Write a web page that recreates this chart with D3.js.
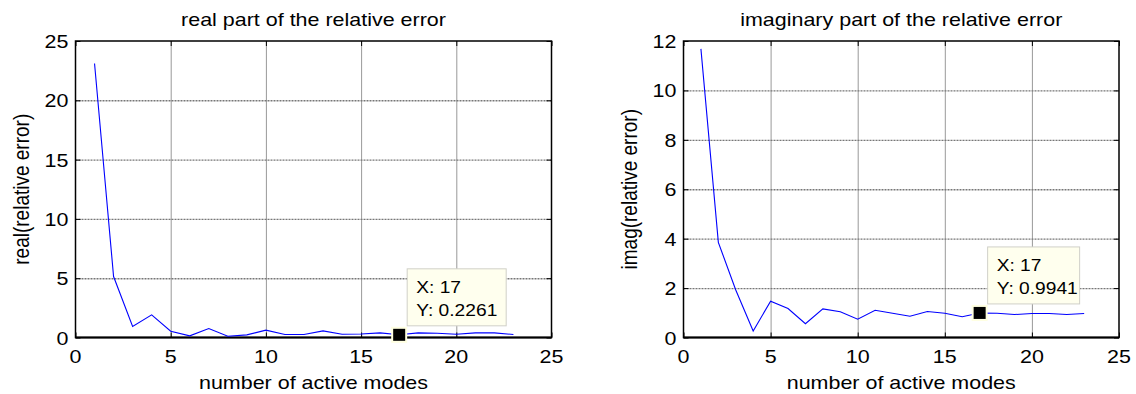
<!DOCTYPE html>
<html>
<head>
<meta charset="utf-8">
<script src="https://cdn.jsdelivr.net/npm/d3@7"></script>
<style>
  body { margin: 0; background: #fff; }
  text { font-family: "Liberation Sans", Arial, sans-serif; fill: #000; }
</style>
</head>
<body>
<div id="chart"></div>
<script>
// number of active modes
const modes = [1, 2, 3, 4, 5, 6, 7, 8, 9, 10, 11, 12, 13, 14, 15, 16, 17, 18, 19, 20, 21, 22, 23];
// real part of the relative error
const realErr = [23.1, 5.14, 0.93, 1.91, 0.53, 0.14, 0.76, 0.11, 0.22, 0.62, 0.25, 0.25, 0.56, 0.28, 0.3, 0.39, 0.2261, 0.39, 0.36, 0.28, 0.39, 0.39, 0.25];
// imaginary part of the relative error
const imagErr = [11.68, 3.85, 1.92, 0.26, 1.47, 1.17, 0.56, 1.16, 1.04, 0.74, 1.1, 0.98, 0.86, 1.05, 0.98, 0.84, 0.9941, 0.98, 0.93, 0.97, 0.97, 0.93, 0.97];

const xTicks = [0, 5, 10, 15, 20, 25];
const realTicks = [0, 5, 10, 15, 20, 25];
const imagTicks = [0, 2, 4, 6, 8, 10, 12];

const W = 1136, H = 394;
const FS = 19, SX = 1.13;   // text looks stretched sideways in the picture

const svg = d3.select('#chart').append('svg')
    .attr('width', W).attr('height', H);

function hText(sel, x, y, str, anchor, size) {
    return sel.append('text')
        .attr('transform', `translate(${x},${y}) scale(${SX},1)`)
        .attr('text-anchor', anchor || 'middle')
        .style('font-size', (size || FS) + 'px')
        .text(str);
}

function panel(cfg) {
    const { left, right, top, bottom } = cfg.box;
    const x = d3.scaleLinear().domain([0, 25]).range([left, right]);
    const y = d3.scaleLinear().domain([0, cfg.yMax]).range([bottom, top]);
    const g = svg.append('g');

    // grid (dotted, like matlab "grid on")
    g.append('g')
        .attr('class', 'grid')
        .attr('transform', `translate(0,${bottom})`)
        .call(d3.axisBottom(x).tickValues(xTicks.slice(1, -1)).tickSize(-(bottom - top)).tickFormat(''))
        .selectAll('line').attr('stroke', '#333').attr('stroke-dasharray', '1,1');
    g.append('g')
        .attr('class', 'grid')
        .attr('transform', `translate(${left},0)`)
        .call(d3.axisLeft(y).tickValues(cfg.yTicks.slice(1, -1)).tickSize(-(right - left)).tickFormat(''))
        .selectAll('line').attr('stroke', '#777').attr('stroke-dasharray', '2,1').attr('stroke-width', 1.4);

    // inward ticks on all four sides
    const tick = 5;
    g.append('g').attr('class', 'tk').attr('transform', `translate(0,${bottom})`)
        .call(d3.axisBottom(x).tickValues(xTicks).tickSize(-tick).tickFormat(''));
    g.append('g').attr('class', 'tk').attr('transform', `translate(0,${top})`)
        .call(d3.axisTop(x).tickValues(xTicks).tickSize(-tick).tickFormat(''));
    g.append('g').attr('class', 'tk').attr('transform', `translate(${left},0)`)
        .call(d3.axisLeft(y).tickValues(cfg.yTicks).tickSize(-tick).tickFormat(''));
    g.append('g').attr('class', 'tk').attr('transform', `translate(${right},0)`)
        .call(d3.axisRight(y).tickValues(cfg.yTicks).tickSize(-tick).tickFormat(''));
    g.selectAll('.domain').remove();
    g.selectAll('.tk line').attr('stroke', '#000');

    // box
    g.append('rect')
        .attr('x', left).attr('y', top)
        .attr('width', right - left).attr('height', bottom - top)
        .attr('fill', 'none').attr('stroke', '#000').attr('stroke-width', 1.5);
    g.append('line')
        .attr('x1', left).attr('x2', right).attr('y1', bottom).attr('y2', bottom)
        .attr('stroke', '#000').attr('stroke-width', 2);

    // tick labels
    xTicks.forEach(t => hText(g, x(t), 363, t));
    cfg.yTicks.forEach(t => hText(g, left - 7, y(t) + 7, t, 'end'));

    // line
    const line = d3.line().x((d, i) => x(modes[i])).y(d => y(d));
    g.append('path')
        .datum(cfg.values)
        .attr('d', line)
        .attr('fill', 'none')
        .attr('stroke', '#0000ff')
        .attr('stroke-width', 1.1);

    // titles and labels
    hText(g, (left + right) / 2, 26, cfg.title);
    hText(g, (left + right) / 2, 389, 'number of active modes');
    g.append('text')
        .attr('transform', `translate(${cfg.yLabelX},${(top + bottom) / 2}) rotate(-90) scale(1,${SX})`)
        .attr('text-anchor', 'middle')
        .style('font-size', FS + 'px')
        .text(cfg.yLabel);

    // data tip
    const k = modes.indexOf(cfg.tipX);
    const px = x(modes[k]), py = y(cfg.values[k]);
    g.append('rect')
        .attr('x', px - 8).attr('y', py - 8).attr('width', 16).attr('height', 16)
        .attr('fill', '#ffffe1');
    g.append('rect')
        .attr('x', px - 6).attr('y', py - 6).attr('width', 12).attr('height', 12)
        .attr('fill', '#000');
    const bx = px + 8, by = py - 9 - 57;
    g.append('rect')
        .attr('x', bx).attr('y', by).attr('width', cfg.tipW).attr('height', 57)
        .attr('fill', '#ffffee').attr('stroke', '#d0d0c8').attr('stroke-width', 1);
    hText(g, bx + 9, by + 24, 'X: ' + cfg.tipX, 'start', 17);
    hText(g, bx + 9, by + 47, 'Y: ' + cfg.values[k], 'start', 17);
}

panel({
    box: { left: 75.5, right: 551.5, top: 41, bottom: 337.5 },
    yMax: 25, yTicks: realTicks, values: realErr,
    title: 'real part of the relative error',
    yLabel: 'real(relative error)', yLabelX: 29,
    tipX: 17, tipW: 99
});

panel({
    box: { left: 683.5, right: 1119, top: 41, bottom: 337.5 },
    yMax: 12, yTicks: imagTicks, values: imagErr,
    title: 'imaginary part of the relative error',
    yLabel: 'imag(relative error)', yLabelX: 637,
    tipX: 17, tipW: 92
});
</script>
</body>
</html>
